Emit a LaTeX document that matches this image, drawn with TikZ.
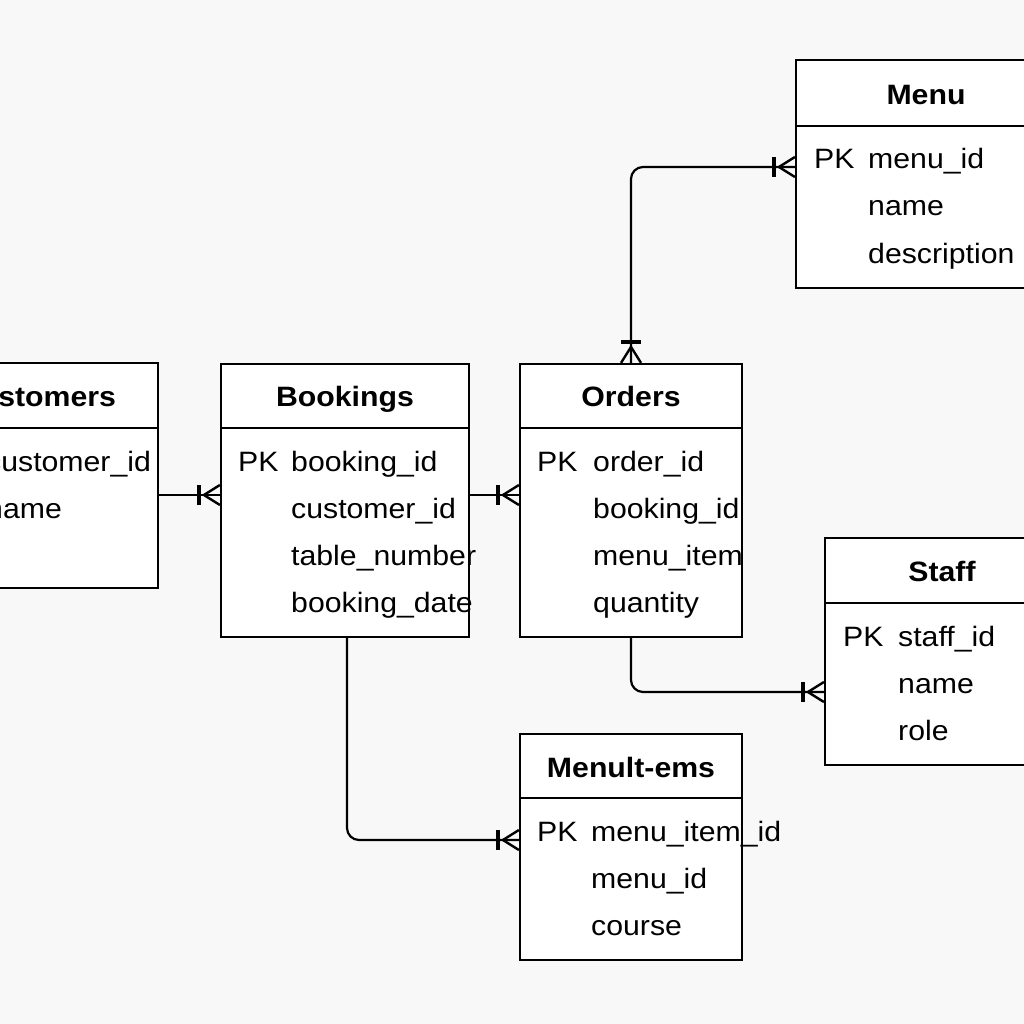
\documentclass[tikz,border=0pt]{standalone}
\usepackage{fontspec}
\setmainfont{Liberation Sans}[FakeStretch=1.08]
\definecolor{bgc}{RGB}{248,248,248}
\tikzset{
  ebox/.style={draw=black, fill=white, line width=2.2pt, inner sep=0pt},
  hdr/.style={draw=black, line width=2.2pt},
  ttl/.style={font=\fontsize{28}{34}\selectfont\bfseries, inner sep=0pt, anchor=base},
  fld/.style={font=\fontsize{28}{34}\selectfont, inner sep=0pt, anchor=base west},
  conn/.style={draw=black, line width=2.2pt, rounded corners=12pt},
  crow/.pic={
    \draw[line width=2.4pt] (-16,0) -- (0,10);
    \draw[line width=2.4pt] (-16,0) -- (0,-10);
    \draw[line width=3.8pt] (-21,-10) -- (-21,10);
  }
}
\begin{document}
\begin{tikzpicture}[x=1pt,y=-1pt]
\useasboundingbox (0,0) rectangle (1024,1024);
\clip (0,0) rectangle (1024,1024);
\fill[bgc] (0,0) rectangle (1024,1024);

% boxes
\node[ebox, minimum width=242pt, minimum height=225pt] (cust) at (37,475.5) {};
\node[ebox, minimum width=248pt, minimum height=273pt] (book) at (345,500.5) {};
\node[ebox, minimum width=222pt, minimum height=273pt] (ord) at (631,500.5) {};
\node[ebox, minimum width=260pt, minimum height=228pt] (menu) at (926,174) {};
\node[ebox, minimum width=234pt, minimum height=227pt] (staff) at (942,651.5) {};
\node[ebox, minimum width=222pt, minimum height=226pt] (mi) at (631,847) {};

% header lines
\draw[hdr] (cust.west |- 0,428) -- (cust.east |- 0,428);
\draw[hdr] (book.west |- 0,428) -- (book.east |- 0,428);
\draw[hdr] (ord.west |- 0,428) -- (ord.east |- 0,428);
\draw[hdr] (menu.west |- 0,126) -- (menu.east |- 0,126);
\draw[hdr] (staff.west |- 0,603) -- (staff.east |- 0,603);
\draw[hdr] (mi.west |- 0,798) -- (mi.east |- 0,798);

% Customers
\node[ttl] (custT) at (37,406) {Customers};
\node[fld] (custPK) at (-67,471) {PK};
\node[fld] (custF1) at (-14,471) {customer\_id};
\node[fld] (custF2) at (-14,518) {name};

% Bookings
\node[ttl] (bookT) at (345,406) {Bookings};
\node[fld] (bookPK) at (238,471) {PK};
\node[fld] (bookF1) at (291,471) {booking\_id};
\node[fld] (bookF2) at (291,518) {customer\_id};
\node[fld] (bookF3) at (291,565) {table\_number};
\node[fld] (bookF4) at (291,612) {booking\_date};

% Orders
\node[ttl] (ordT) at (631,406) {Orders};
\node[fld] (ordPK) at (537,471) {PK};
\node[fld] (ordF1) at (593,471) {order\_id};
\node[fld] (ordF2) at (593,518) {booking\_id};
\node[fld] (ordF3) at (593,565) {menu\_item};
\node[fld] (ordF4) at (593,612) {quantity};

% Menu
\node[ttl] (menuT) at (926,105) {Menu};
\node[fld] (menuPK) at (814,169) {PK};
\node[fld] (menuF1) at (868,169) {menu\_id};
\node[fld] (menuF2) at (868,216) {name};
\node[fld] (menuF3) at (868,263) {description};

% Staff
\node[ttl] (staffT) at (942,581) {Staff};
\node[fld] (staffPK) at (843,646) {PK};
\node[fld] (staffF1) at (898,646) {staff\_id};
\node[fld] (staffF2) at (898,693) {name};
\node[fld] (staffF3) at (898,740) {role};

% MenuItems
\node[ttl] (miT) at (631,777) {Menult-ems};
\node[fld] (miPK) at (537,841) {PK};
\node[fld] (miF1) at (591,841) {menu\_item\_id};
\node[fld] (miF2) at (591,888) {menu\_id};
\node[fld] (miF3) at (591,935) {course};

% connectors
\draw[conn] (cust.east |- 0,495) -- (book.west |- 0,495);
\draw[conn] (book.east |- 0,495) -- (ord.west |- 0,495);
\draw[conn] (ord.north) |- (menu.west |- 0,167);
\draw[conn] (ord.south) |- (staff.west |- 0,692);
\draw[conn] (book.south -| 347,0) |- (mi.west |- 0,840);

% crow's feet
\pic at (book.west |- 0,495) {crow};
\pic at (ord.west |- 0,495) {crow};
\pic at (menu.west |- 0,167) {crow};
\pic at (staff.west |- 0,692) {crow};
\pic at (mi.west |- 0,840) {crow};
\pic[rotate=-90] at (ord.north) {crow};
\end{tikzpicture}
\end{document}
